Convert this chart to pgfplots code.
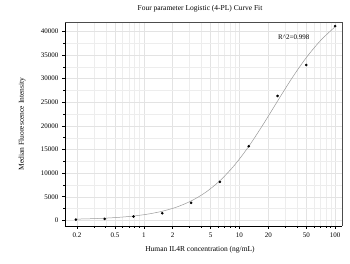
\documentclass[border=0pt]{standalone}
\usepackage{fontspec}
\setmainfont{Liberation Serif}
\usepackage{pgfplots}
\pgfplotsset{compat=1.18}
\begin{document}
\begin{tikzpicture}
\begin{axis}[
  scale only axis, width=277pt, height=204pt,
  at={(0,0)}, anchor=south west,
  xmode=log, xmin=0.15, xmax=118,
  ymin=-1200, ymax=42000,
  scaled y ticks=false,
  axis x line*=bottom, axis y line*=left,
  axis line style={black, line width=0.6pt},
  tick align=outside, tick pos=left,
  xtick={0.2,0.5,1,2,5,10,20,50,100},
  xticklabels={0.2,0.5,1,2,5,10,20,50,100},
  minor xtick={0.3,0.4,0.6,0.7,0.8,0.9,3,4,6,7,8,9,30,40,60,70,80,90},
  ytick={0,5000,...,40000},
  minor ytick={2500,7500,...,42500},
  yticklabel style={/pgf/number format/1000 sep={}, /pgf/number format/fixed},
  /pgf/number format/assume math mode=true,
  ticklabel style={font=\fontsize{7}{8}\selectfont},
  major tick length=3pt, minor tick length=1.8pt,
  every tick/.style={black, line width=0.5pt},
  grid=both,
  major grid style={gray!22, line width=0.4pt},
  minor grid style={gray!14, line width=0.35pt},
  clip=false,
]
\addplot[gray!80, line width=0.5pt, smooth] coordinates {
(0.195,256) (0.276,336) (0.39,458) (0.552,639) (0.78,913) (1.105,1322)
(1.5625,1929) (2.21,2817) (3.125,4103) (4.42,5916) (6.25,8394) (8.84,11640)
(12.5,15659) (17.68,20301) (25,25247) (35.36,30097) (50,34465) (70.7,38120) (100,40990)
};
\addplot[only marks, mark=*, mark size=1.1pt, black] coordinates {
(0.195,150) (0.39,300) (0.78,800) (1.5625,1500) (3.125,3700) (6.25,8150)
(12.5,15700) (25,26350) (50,32900) (100,41150)
};
\node[font=\fontsize{7}{8}\selectfont] at (axis cs:37,38850) {R\^{}2=0.998};
\draw[gray!60!black, line width=0.9pt] (rel axis cs:0,1) -- (rel axis cs:1,1) -- (rel axis cs:1,0);
\end{axis}
\node[font=\fontsize{7.5}{9}\selectfont] at (135pt,217pt) {Four parameter Logistic (4-PL) Curve Fit};
\node[font=\fontsize{7.5}{9}\selectfont, rotate=90] at (-43pt,102pt) {Median Fluorescence Intensity};
\node[font=\fontsize{7.5}{9}\selectfont] at (135pt,-24pt) {Human IL4R concentration (ng/mL)};
\pgfresetboundingbox
\path (-65pt,-38pt) rectangle (285pt,226pt);
\end{tikzpicture}
\end{document}
